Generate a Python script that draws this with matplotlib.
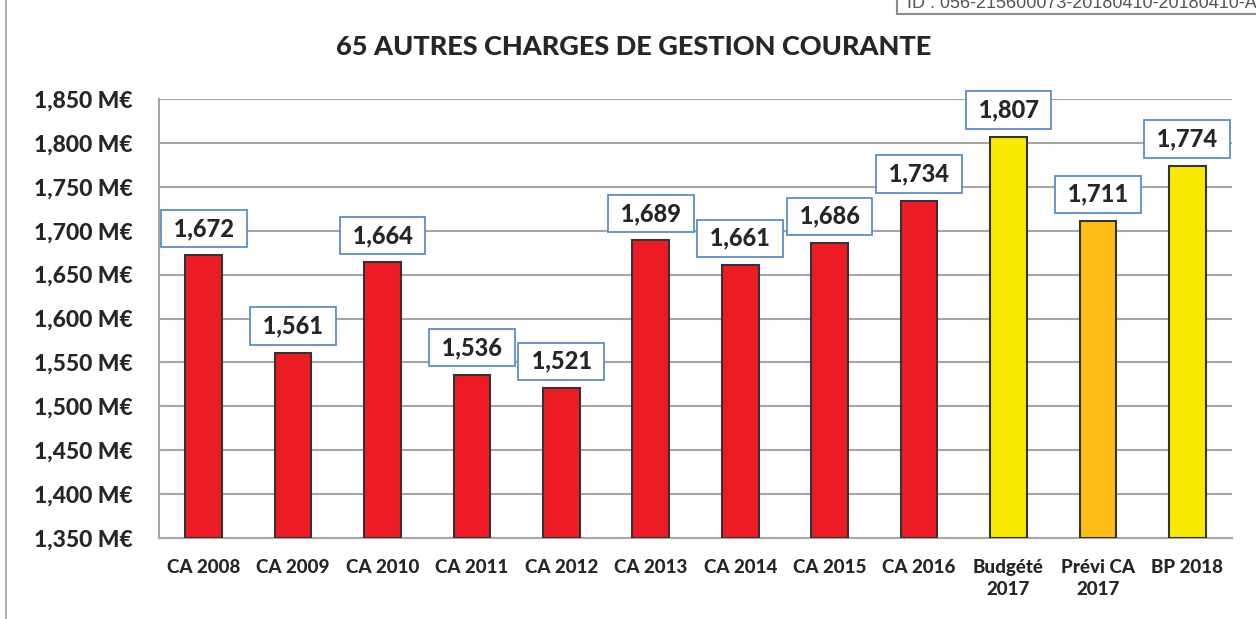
import matplotlib.pyplot as plt
from matplotlib.patches import Rectangle
from matplotlib.lines import Line2D

categories = ["CA 2008", "CA 2009", "CA 2010", "CA 2011", "CA 2012", "CA 2013",
              "CA 2014", "CA 2015", "CA 2016", "Budgété\n2017", "Prévi CA\n2017", "BP 2018"]
values = [1672, 1561, 1664, 1536, 1521, 1689, 1661, 1686, 1734, 1807, 1711, 1774]
kinds = ["CA"] * 9 + ["Budget", "Previ", "Budget"]
yticks = [1350, 1400, 1450, 1500, 1550, 1600, 1650, 1700, 1750, 1800, 1850]

colors = {"CA": "#ED1C24", "Budget": "#F7EA00", "Previ": "#FDBD14"}

plt.rcParams['font.family'] = ['Lato', 'DejaVu Sans']
plt.rcParams['font.weight'] = 'bold'

fig = plt.figure(figsize=(12.56, 6.19), dpi=100)
ax = fig.add_axes([159 / 1256, 1 - 538 / 619, (1232 - 159) / 1256, (538 - 99) / 619])

x = range(len(categories))
ax.bar(x, [v - yticks[0] for v in values], bottom=yticks[0], width=0.41,
       color=[colors[k] for k in kinds], edgecolor="#333333", linewidth=1.5, zorder=3)

for i, v in enumerate(values):
    ax.annotate(f" {v:,} ", (i, v), xytext=(0, 11), textcoords="offset points",
                ha="center", va="bottom", fontsize=17, fontweight="black", color="#262626",
                bbox=dict(boxstyle="square,pad=0.3", fc="white", ec="#5B8FCC", lw=1.3),
                zorder=5)

ax.set_xlim(-0.5, len(categories) - 0.5)
ax.set_ylim(yticks[0], yticks[-1])
ax.set_yticks(yticks)
ax.set_yticklabels([f"{t:,} M€" for t in yticks], fontsize=16.5, fontweight="black", color="#262626")
ax.set_xticks(list(x))
ax.set_xticklabels(categories, fontsize=13.5, fontweight="black", color="#262626", linespacing=1.4)
ax.tick_params(axis="y", length=0, pad=19)
ax.tick_params(axis="x", length=0, pad=15)
ax.grid(axis="y", color="#A6A6A6", linewidth=1.5, zorder=0)
for s in ["top", "right"]:
    ax.spines[s].set_visible(False)
for s in ["left", "bottom"]:
    ax.spines[s].set_color("#A6A6A6")
    ax.spines[s].set_linewidth(1.5)

fig.text(634 / 1256, 1 - 47 / 619, "65 AUTRES CHARGES DE GESTION COURANTE", ha="center", va="center",
         fontsize=19.5, fontweight="black", color="#262626")

# outer frame line and ID stamp
fig.add_artist(Line2D([6 / 1256, 6 / 1256], [0, 1], color="#B0B0B0", lw=1.5))
fig.add_artist(Rectangle((897 / 1256, 1 - 14 / 619), 0.5, 0.1, fc="white", ec="#8C8C8C", lw=1.5))
fig.text(907 / 1256, 1 - 4 / 619, "ID : 056-215600073-20180410-20180410-AI", ha="left", va="center",
         fontsize=13, fontweight="normal", color="#555555", family="Liberation Sans")

fig.savefig("out.png", dpi=100)
